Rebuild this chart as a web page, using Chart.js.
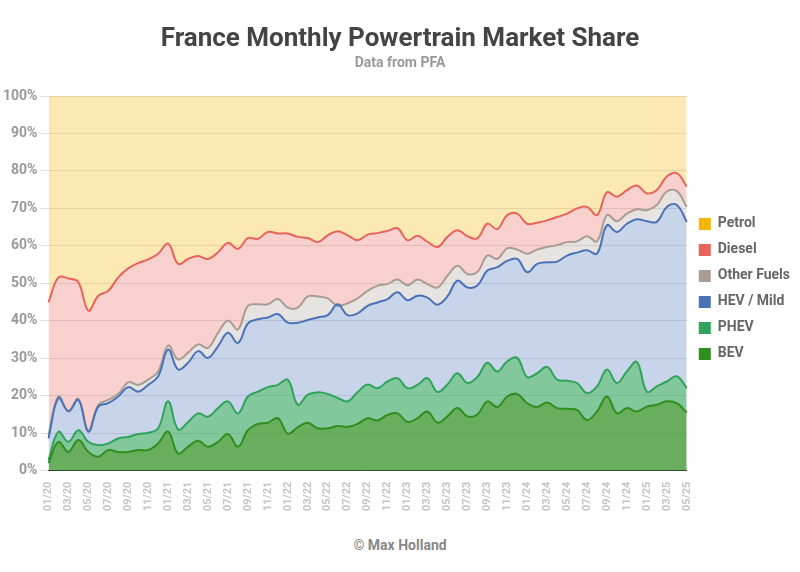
<!DOCTYPE html>
<html>
<head>
<meta charset="utf-8">
<script src="https://cdn.jsdelivr.net/npm/chart.js@4/dist/chart.umd.min.js"></script>
<style>
  html, body { margin: 0; padding: 0; background: #fff; }
  body { width: 800px; height: 572px; position: relative; font-family: Roboto, sans-serif; }
  #wrap { position: absolute; left: 0; top: 0; width: 800px; height: 514px; }
  #credit { position: absolute; left: 0; width: 800px; top: 537px; text-align: center; color: #888; font-size: 14px; font-weight: bold; }
</style>
</head>
<body>
<div id="wrap"><canvas id="c"></canvas></div>
<div id="credit">© Max Holland</div>
<script>
// Month labels 01/20 .. 05/25
const months = [];
for (let y = 20; y <= 25; y++) {
  for (let m = 1; m <= 12; m++) {
    if (y === 25 && m > 5) break;
    months.push(String(m).padStart(2, '0') + '/' + y);
  }
}

// Cumulative share (top edge of each band), %
const bevTop = [2,7.7,5,8.2,5,3.7,5.5,5,5,5.5, 5.5,7.3,10.4,4.6,6.4,8,6.4,7.7,9.8,6.4,
  10.8,12.5,12.8,14,9.9,11.6,12.8,11.3,11.3,11.9, 11.7,12.5,
  14,13.4,14.9,15.3,13,14,15.8,12.8,14.5,16.7, 14.5,15,18.5,17,19.8,20.5,18,17,18.2,16.7,
  16.5,16.2,13.5,15.8,19.8,15.3,16.7,15.8,17.1,17.6, 18.5,18,15.5];
const phevTop = [2.8,10.4,7.7,10.8,7.7,6.8,7.3,8.6,9,9.8, 10.1,11.3,18.5,11,13,15.3,14.4,16.7,18.5,15.3,
  19.8,21.1,22.3,22.9,24.3,17.6,20.3,20.9,20.5,19.4, 18.5,21,
  23,22,23.8,24.7,22,22.9,24.7,21,23,26, 23.4,25,28.8,26.5,29.2,30.1,25,26,27.7,24.3,
  24,23.4,20.7,22.5,27,23.4,26.5,29,21.1,22.5, 23.8,25.2,22];
const hevTop = [8.6,19.4,15.8,18.9,10.4,17.1,18,19.8,22.3,21.1, 22.9,25.2,32.3,27,28.8,31.9,30.1,33.2,36.8,34.1,
  39.3,40.4,40.9,41.8,39.5,39.5,40.2,40.9,41.5,44.4, 41.5,42,
  44,44.9,45.8,47.6,45.5,46.7,46.2,44.3,46.5,50.7, 48.9,49.4,53.4,54.3,56,56.5,53,55.2,55.6,55.8,
  57.4,58.2,58.8,57.9,65.5,63.7,65.9,67.1,66.6,66.4, 70.4,70.9,66.4];
const otherTop = [9.5,19.8,16,19.2,10.7,17.6,18.9,20.5,23.6,22.9, 24.3,26.5,33.4,29.7,31.5,33.7,32.8,36.8,40,37.7,
  44,44.4,44.4,45.8,43.5,43.5,46.5,46.5,46,44, 44.7,46,
  48,49.4,49.8,51,49.5,51,49.8,48.9,52,54.7, 52.5,53,57.4,56.5,59.4,59,57.9,59,59.7,60.2,
  61,61.2,62.6,61.2,68.2,66.6,68.6,69.8,69.5,70.9, 74.5,74.6,70.4];
const dieselTop = [44.9,51.6,51.3,50.3,42.7,46.7,48,51.6,54,55.4, 56.4,57.9,60.6,55.2,56.5,57.3,56.5,58.3,60.8,59.2,
  62.1,61.9,63.7,63.3,63.3,62.4,62.1,61,62.8,63.9, 62.8,61.5,
  63,63.4,64,64.7,61.5,62.7,61.1,59.7,62.4,64.2, 62.6,62,65.9,64.5,68.2,68.6,65.9,66.2,66.8,67.7,
  68.6,70,70.4,68.2,74.3,73.1,74.9,76.1,74,74.9, 78.5,79.4,75.8];
const petrolTop = months.map(() => 100);

function band(label, data, line, fillCol, fill, width = 2) {
  return {
    label, data, fill,
    borderColor: line, backgroundColor: fillCol,
    borderWidth: width, pointRadius: 0, tension: 0.4,
  };
}

new Chart(document.getElementById('c'), {
  type: 'line',
  data: {
    labels: months,
    datasets: [
      band('BEV', bevTop, '#2E8F1E', 'rgba(46,143,30,0.72)', 'origin'),
      band('PHEV', phevTop, '#2FA35A', 'rgba(47,163,90,0.6)', '-1'),
      band('HEV / Mild', hevTop, '#4A72B8', 'rgba(74,114,184,0.3)', '-1'),
      band('Other Fuels', otherTop, '#A99C95', 'rgba(169,156,149,0.28)', '-1'),
      band('Diesel', dieselTop, '#E8645A', 'rgba(232,100,90,0.3)', '-1'),
      band('Petrol', petrolTop, '#F4B400', 'rgba(244,180,0,0.3)', '-1', 0),
    ],
  },
  options: {
    animation: false,
    responsive: true,
    maintainAspectRatio: false,
    layout: { padding: { left: 0, right: 0, top: 12 } },
    plugins: {
      title: {
        display: true, text: 'France Monthly Powertrain Market Share',
        color: '#444', font: { family: 'Roboto', size: 26, weight: 'bold' }, padding: { top: 12, bottom: 0 },
      },
      subtitle: {
        display: true, text: 'Data from PFA',
        color: '#999', font: { family: 'Roboto', size: 14, weight: 'bold' }, padding: { bottom: 24 },
      },
      legend: {
        position: 'right', reverse: true,
        title: { display: true, text: ' ', padding: { top: 35, bottom: 0 }, font: { size: 14 } },
        labels: {
          boxWidth: 12, boxHeight: 12, padding: 12, color: '#555',
          font: { family: 'Roboto', size: 14, weight: 'bold' },
          generateLabels: (chart) => chart.data.datasets.map((d, i) => ({
            text: d.label, fillStyle: d.borderColor, strokeStyle: d.borderColor,
            lineWidth: 0, datasetIndex: i, hidden: false,
          })),
        },
      },
      tooltip: { enabled: false },
    },
    scales: {
      x: {
        offset: false,
        grid: { display: false },
        border: { color: '#333' },
        ticks: {
          autoSkip: false, maxRotation: 90, minRotation: 90, color: '#c4c4c4',
          font: { family: 'Roboto', size: 11, weight: 'bold' },
          callback: (v, i) => (i % 2 === 0 ? months[i] : ''),
        },
      },
      y: {
        min: 0, max: 100,
        border: { display: false },
        grid: { color: 'rgba(0,0,0,0.12)' },
        ticks: {
          stepSize: 10, color: '#999',
          font: { family: 'Roboto', size: 14, weight: 'bold' },
          callback: (v) => v + '%',
        },
      },
    },
  },
});
</script>
</body>
</html>
